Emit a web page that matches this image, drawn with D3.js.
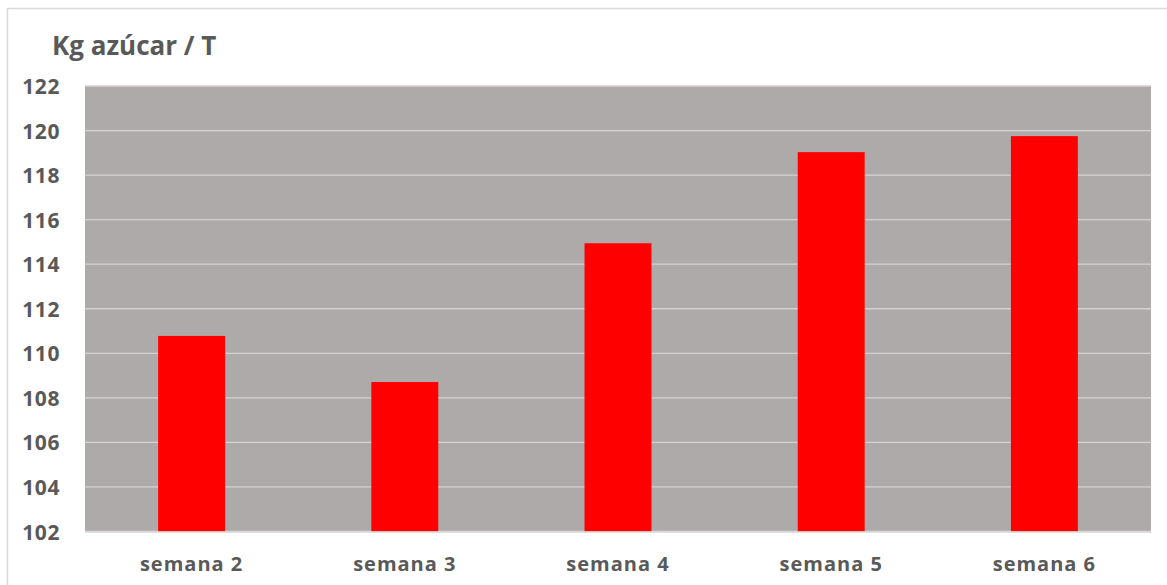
<!DOCTYPE html>
<html>
<head>
<meta charset="utf-8">
<script src="https://cdn.jsdelivr.net/npm/d3@7"></script>
<style>
  html, body { margin: 0; padding: 0; background: #ffffff; }
  svg { display: block; }
  text { font-family: "Open Sans", "Liberation Sans", sans-serif; font-weight: 700; fill: #595959; }
</style>
</head>
<body>
<script>
// Sugar yield per tonne, by week
const weeks = ["semana 2", "semana 3", "semana 4", "semana 5", "semana 6"];
const kgSugar = [110.78, 108.71, 114.94, 119.03, 119.75];
const yTicks = [102, 104, 106, 108, 110, 112, 114, 116, 118, 120, 122];
const titleText = "Kg azúcar / T";

const W = 1167, H = 585;
const plot = { left: 85, right: 1151, top: 86, bottom: 531.5 };

const svg = d3.select("body").append("svg")
  .attr("width", W).attr("height", H);

// chart frame (left and top edges visible)
svg.append("rect")
  .attr("x", 7.5).attr("y", 8.5)
  .attr("width", W + 20).attr("height", H + 20)
  .attr("fill", "#ffffff").attr("stroke", "#d9d9d9").attr("stroke-width", 1.5);

const x = d3.scaleBand().domain(weeks).range([plot.left, plot.right]).padding(0);
const y = d3.scaleLinear().domain([102, 122]).range([plot.bottom, plot.top]);
const barW = x.bandwidth() * 0.314;

// plot background
svg.append("rect")
  .attr("x", plot.left).attr("y", plot.top)
  .attr("width", plot.right - plot.left).attr("height", plot.bottom - plot.top)
  .attr("fill", "#aeaaaa");

// gridlines
svg.append("g").selectAll("line").data(yTicks).join("line")
  .attr("x1", plot.left).attr("x2", plot.right)
  .attr("y1", d => y(d)).attr("y2", d => y(d))
  .attr("stroke", "#d4d2d2").attr("stroke-width", 1.3);

// bars
svg.append("g").selectAll("rect").data(weeks).join("rect")
  .attr("x", d => x(d) + (x.bandwidth() - barW) / 2)
  .attr("width", barW)
  .attr("y", (d, i) => y(kgSugar[i]))
  .attr("height", (d, i) => y(102) - y(kgSugar[i]))
  .attr("fill", "#ff0000");

// y axis
const yAxis = d3.axisLeft(y).tickValues(yTicks).tickSize(0).tickPadding(0);
const gy = svg.append("g").attr("transform", `translate(60,0)`).call(yAxis);
gy.select(".domain").remove();
gy.selectAll("text").attr("font-size", 21).attr("dy", "0.36em")
  .style("letter-spacing", "0.6px")
  .style("font-family", "'Open Sans', sans-serif").style("font-weight", 700).attr("fill", "#595959");

// x axis
const xAxis = d3.axisBottom(x).tickSize(0).tickPadding(0);
const gx = svg.append("g").attr("transform", `translate(0,${plot.bottom})`).call(xAxis);
gx.select(".domain").attr("stroke", "#d9d9d9").attr("stroke-width", 1.3);
gx.selectAll("text").attr("font-size", 20).attr("y", 39).attr("dy", 0)
  .style("letter-spacing", "1px")
  .style("font-family", "'Open Sans', sans-serif").style("font-weight", 700).attr("fill", "#595959");

// title
svg.append("text")
  .attr("x", 52).attr("y", 55)
  .attr("font-size", 26)
  .text(titleText);
</script>
</body>
</html>
